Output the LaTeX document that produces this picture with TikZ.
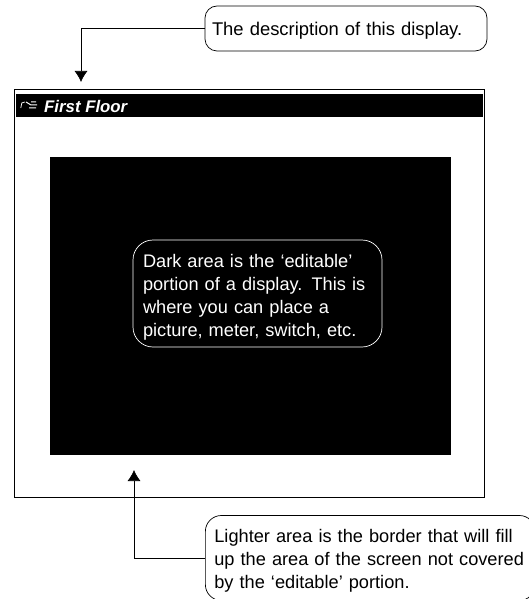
\documentclass[tikz,border=0pt]{standalone}
\usepackage{fontspec}
\setmainfont{Liberation Sans}
\usepackage{tikz}
\usetikzlibrary{positioning,arrows.meta}

\begin{document}
\begin{tikzpicture}[
    x=1pt, y=-1pt,
    callout/.style={draw, line width=0.7pt, rounded corners=12pt, fill=white, inner sep=0pt, align=left, font=\fontsize{18.2}{23}\selectfont},
    panel/.style={rectangle, fill=black, inner sep=0pt},
    >={Latex[length=11pt, width=13pt]}
  ]
    \useasboundingbox (0,0) rectangle (529,599);

    \node[draw, line width=1pt, minimum width=470pt, minimum height=407pt, inner sep=0pt] (screen) at (249,293.5) {};
    \node[panel, minimum width=467pt, minimum height=23pt] (titlebar) at (249.5,105.5) {};
    \node[panel, minimum width=401pt, minimum height=298pt] (editable) at (250.5,305.5) {};

    \node[font=\fontsize{16.8}{18}\selectfont\itshape\bfseries, text=white, inner sep=0pt, anchor=west] (title) at (44,106) {First Floor};
    \node[inner sep=0pt, minimum width=16pt, minimum height=8pt] (icon) at (29,105) {};
    \draw[white, line width=0.7pt] (icon.west) ++(0,3) -- ++(1,-5) -- ++(3,-1);
    \draw[white, line width=1pt] (icon.center) ++(-3,-3) -- ++(5,3) -- ++(6,0) (icon.center) ++(0,3) -- ++(7,0) (icon.center) ++(2,-3) -- ++(5,0);

    \node[callout, font=\fontsize{18.4}{23}\selectfont, minimum width=282pt, minimum height=45pt, text width=268pt] (desc) at (346,28.5) {\rule{0pt}{17pt}The description of this display.};
    \node[callout, rounded corners=20pt, fill=black, text=white, draw=white, minimum width=249pt, minimum height=107pt, text width=229pt] (dark) at (257.5,293.5) {\rule{0pt}{21pt}Dark area is the ‘editable’\\portion of a display. This is\\where you can place a\\picture, meter, switch, etc.};
    \node[callout, rounded corners=16pt, minimum width=330pt, minimum height=85pt, text width=312pt, anchor=west] (lighter) at (205,558) {\rule{0pt}{18pt}Lighter area is the border that will fill\\up the area of the screen not covered\\by the ‘editable’ portion.};

    \coordinate (desctip) at (81,82);
    \coordinate (lightertip) at (134,470);
    \draw[->, line width=0.7pt] (desc.west) -| (desctip);
    \draw[->, line width=0.7pt] (lighter.west) -| (lightertip);
  \end{tikzpicture}
\end{document}
